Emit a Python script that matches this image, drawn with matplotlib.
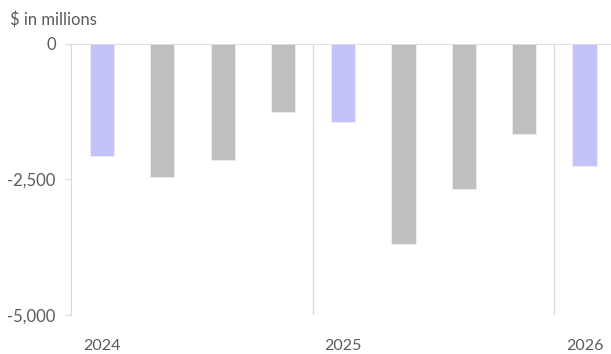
import matplotlib.pyplot as plt
import matplotlib.transforms as mtransforms

# quarterly values, $ in millions
quarters = ["Q1 24", "Q2 24", "Q3 24", "Q4 24", "Q1 25", "Q2 25", "Q3 25", "Q4 25", "Q1 26"]
values = [-2080, -2460, -2150, -1260, -1450, -3690, -2680, -1670, -2260]
highlight = [True, False, False, False, True, False, False, False, True]
year_labels = ["2024", "2025", "2026"]
year_pos = [0, 4, 8]
year_breaks = [3.5, 7.5]
yticks = [0, -2500, -5000]
ytick_labels = ["0", "-2,500", "-5,000"]

purple = "#c3c3fa"
gray = "#bfbfbf"
text_col = "#5b5b5b"
line_col = "#d9d9d9"

plt.rcParams["font.family"] = ["Lato", "DejaVu Sans"]

fig = plt.figure(figsize=(6.11, 3.54), dpi=100)
ax = fig.add_axes([71 / 611, 1 - 315 / 354, 1 - 71 / 611, (315 - 43.5) / 354])

x = list(range(len(values)))
colors = [purple if h else gray for h in highlight]
ax.bar(x, values, width=0.4, color=colors, edgecolor="#eeeeee", linewidth=0.6, zorder=2)

ax.set_xlim(-0.514, 8.44)
ax.set_ylim(-5000, 0)

# zero line and year separators
ax.axhline(0, color=line_col, lw=1.2, zorder=3)
for b in year_breaks:
    ax.axvline(b, color=line_col, lw=1, zorder=1)

for s in ["top", "right", "bottom"]:
    ax.spines[s].set_visible(False)
ax.spines["left"].set_color(line_col)

ax.set_yticks(yticks)
ax.set_yticklabels(ytick_labels)
ax.tick_params(axis="y", colors=line_col, labelcolor=text_col, labelsize=12, length=4, pad=7)
ax.set_xticks([])

trans = mtransforms.blended_transform_factory(ax.transData, fig.transFigure)
for lab, p in zip(year_labels, year_pos):
    ax.text(p, 1 - 346 / 354, lab, transform=trans, ha="center", va="center",
            fontsize=11.5, color=text_col)

fig.text(10 / 611, 1 - 20 / 354, "$ in millions", ha="left", va="center",
         fontsize=12, color=text_col)

fig.savefig("out.png", dpi=100)
